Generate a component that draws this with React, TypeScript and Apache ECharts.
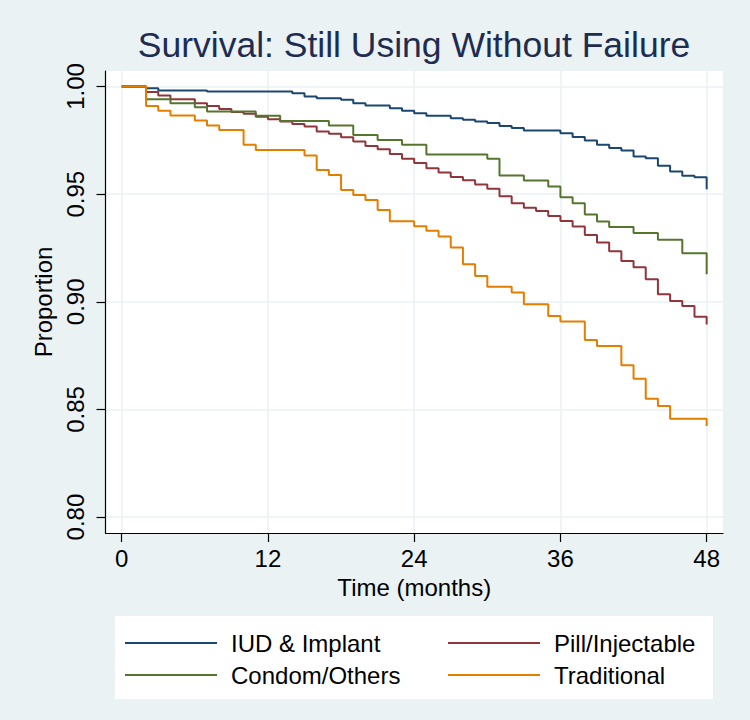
import React, { useEffect, useRef } from "react";
import * as echarts from "echarts";

// Kaplan–Meier step data (time in months, proportion still using without failure)
const iudTime = [0, 2, 3, 7, 14, 15, 16, 18, 19, 20, 22, 23, 24, 25, 27, 28, 29, 30, 31, 32, 33, 36, 37, 38, 39, 40, 41, 42, 43, 44, 45, 46, 47, 48];
const iudSurv = [1, 0.9992, 0.9981, 0.9977, 0.9969, 0.9953, 0.9946, 0.9938, 0.9922, 0.9912, 0.9899, 0.9887, 0.9876, 0.9864, 0.9853, 0.9845, 0.9837, 0.983, 0.9817, 0.9807, 0.9796, 0.9783, 0.9765, 0.9749, 0.9729, 0.9714, 0.9703, 0.9675, 0.9667, 0.9632, 0.9605, 0.9585, 0.9579, 0.9523];

const pillTime = [0, 2, 3, 4, 6, 7, 8, 9, 10, 11, 12, 13, 14, 15, 16, 17, 18, 19, 20, 21, 22, 23, 24, 25, 26, 27, 28, 29, 30, 31, 32, 33, 34, 35, 36, 37, 38, 39, 40, 41, 42, 43, 44, 45, 46, 47, 48];
const pillSurv = [1, 0.9974, 0.9958, 0.9941, 0.9922, 0.991, 0.9895, 0.9881, 0.9873, 0.986, 0.9848, 0.9837, 0.9826, 0.9814, 0.9791, 0.978, 0.9764, 0.9744, 0.9724, 0.9709, 0.9687, 0.9664, 0.9645, 0.962, 0.96, 0.958, 0.9565, 0.9545, 0.9525, 0.949, 0.9458, 0.9437, 0.9422, 0.9398, 0.9375, 0.935, 0.931, 0.9275, 0.9235, 0.919, 0.916, 0.9105, 0.9035, 0.9004, 0.8981, 0.8931, 0.8895];

const condTime = [0, 2, 4, 6, 7, 11, 13, 17, 19, 21, 23, 25, 30, 31, 33, 35, 36, 37, 38, 39, 40, 42, 44, 46, 48];
const condSurv = [1, 0.9941, 0.9922, 0.9904, 0.9884, 0.9864, 0.984, 0.9819, 0.9775, 0.9752, 0.9729, 0.9684, 0.9664, 0.9587, 0.9563, 0.9536, 0.9486, 0.9458, 0.9405, 0.9373, 0.9347, 0.932, 0.9288, 0.9226, 0.9128];

const tradTime = [0, 2, 3, 4, 6, 7, 8, 10, 11, 15, 16, 17, 18, 19, 20, 21, 22, 24, 25, 26, 27, 28, 29, 30, 32, 33, 35, 36, 38, 39, 41, 42, 43, 44, 45, 48];
const tradSurv = [1, 0.991, 0.9887, 0.9865, 0.9842, 0.9819, 0.9798, 0.9729, 0.9705, 0.968, 0.9612, 0.9589, 0.9519, 0.9496, 0.9473, 0.9426, 0.9374, 0.9351, 0.933, 0.9303, 0.9252, 0.9174, 0.912, 0.907, 0.9043, 0.8988, 0.8934, 0.8908, 0.8822, 0.8795, 0.8705, 0.8643, 0.855, 0.8516, 0.8457, 0.8423];

const seriesNames = ["IUD & Implant", "Pill/Injectable", "Condom/Others", "Traditional"];
const xTicks = [0, 12, 24, 36, 48];
const yTicks = [0.8, 0.85, 0.9, 0.95, 1.0];

const titleText = "Survival: Still Using Without Failure";
const xTitle = "Time (months)";
const yTitle = "Proportion";

const FONT = "'Liberation Sans', Arial, Helvetica, sans-serif";

const zip = (t: number[], v: number[]) => t.map((x, i) => [x, v[i]]);

export default function App() {
  const ref = useRef<HTMLDivElement>(null);

  useEffect(() => {
    if (!ref.current) return;
    const chart = echarts.init(ref.current, null, { renderer: "svg" });

    const colors = ["#1a476f", "#90353b", "#55752f", "#e37e00"];
    const datasets = [
      zip(iudTime, iudSurv),
      zip(pillTime, pillSurv),
      zip(condTime, condSurv),
      zip(tradTime, tradSurv),
    ];

    const legendCommon = {
      orient: "vertical" as const,
      top: 631,
      padding: 0,
      icon: "rect",
      itemWidth: 92,
      itemHeight: 2,
      itemGap: 8,
      selectedMode: false,
      textStyle: {
        fontFamily: FONT,
        fontSize: 24,
        color: "#000",
        lineHeight: 24,
        padding: [0, 0, 0, 9],
      },
    };

    chart.setOption({
      animation: false,
      backgroundColor: "#eaf2f3",
      textStyle: { fontFamily: FONT },
      graphic: [
        {
          type: "rect",
          shape: { x: 115, y: 616, width: 598, height: 83 },
          style: { fill: "#ffffff" },
          z: -10,
        },
        {
          type: "text",
          x: 414,
          y: 45,
          style: {
            text: titleText,
            align: "center",
            verticalAlign: "middle",
            fontFamily: FONT,
            fontSize: 35.5,
            fill: "#1e2c52",
          },
        },
      ],
      legend: [
        { ...legendCommon, left: 125, data: [seriesNames[0], seriesNames[2]] },
        { ...legendCommon, left: 448, data: [seriesNames[1], seriesNames[3]] },
      ],
      grid: {
        left: 105.5,
        right: 27,
        top: 71,
        bottom: 187,
        show: true,
        backgroundColor: "#ffffff",
        borderWidth: 0,
        containLabel: false,
      },
      xAxis: {
        type: "value",
        min: -1.33,
        max: 49.34,
        name: xTitle,
        nameLocation: "middle",
        nameGap: 42,
        nameTextStyle: { fontFamily: FONT, fontSize: 24, color: "#000" },
        axisLine: { show: true, onZero: false, lineStyle: { color: "#000", width: 1.2 } },
        axisTick: { show: true, length: 9, lineStyle: { color: "#000", width: 1.2 }, customValues: xTicks },
        axisLabel: {
          show: true,
          customValues: xTicks,
          fontFamily: FONT,
          fontSize: 24,
          color: "#000",
          margin: 13,
        },
        splitLine: { show: true, lineStyle: { color: "#eaf2f3", width: 1.5 } },
      },
      yAxis: {
        type: "value",
        min: 0.7926,
        max: 1.0072,
        name: yTitle,
        nameLocation: "middle",
        nameGap: 42,
        nameTextStyle: { fontFamily: FONT, fontSize: 24, color: "#000" },
        axisLine: { show: true, onZero: false, lineStyle: { color: "#000", width: 1.2 } },
        axisTick: { show: true, length: 9, lineStyle: { color: "#000", width: 1.2 }, customValues: yTicks },
        axisLabel: {
          show: true,
          customValues: yTicks,
          rotate: 90,
          fontFamily: FONT,
          fontSize: 24,
          color: "#000",
          margin: 18,
          formatter: (v: number) => v.toFixed(2),
        },
        splitLine: { show: true, lineStyle: { color: "#eaf2f3", width: 1.5 } },
      },
      series: seriesNames.map((name, i) => ({
        name,
        type: "line",
        step: "end",
        symbol: "none",
        data: datasets[i],
        color: colors[i],
        lineStyle: { color: colors[i], width: 2 },
        z: 3,
      })),
    });

    return () => chart.dispose();
  }, []);

  return (
    <div
      ref={ref}
      style={{ position: "absolute", left: 0, top: 0, width: 750, height: 720 }}
    />
  );
}
